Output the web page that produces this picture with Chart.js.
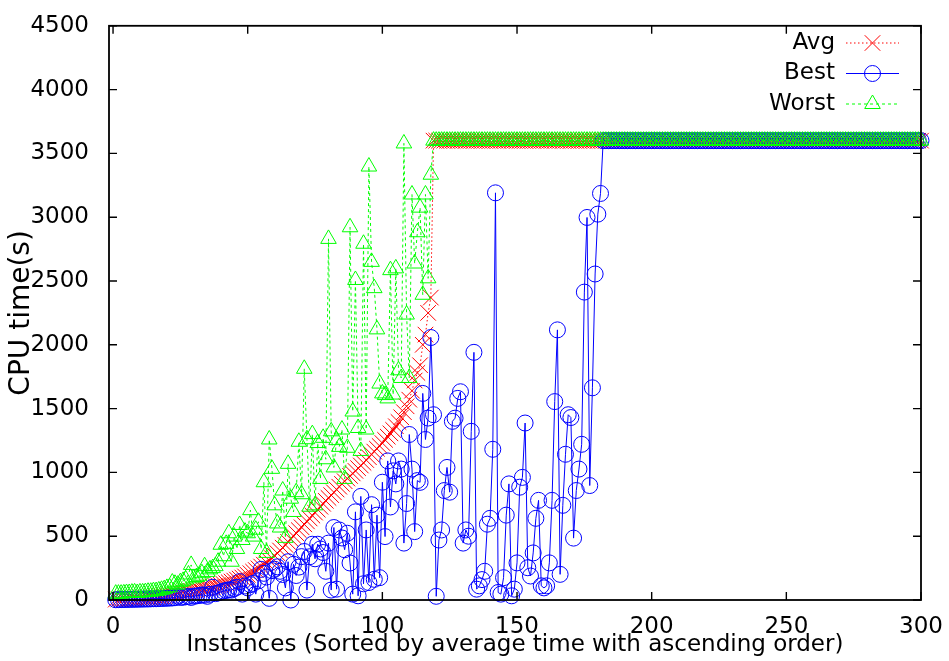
<!DOCTYPE html>
<html><head><meta charset="utf-8">
<script src="https://cdn.jsdelivr.net/npm/chart.js@4.4.0/dist/chart.umd.min.js"></script>
<style>html,body{margin:0;padding:0;background:#fff;}#c{display:block;}</style>
</head><body>
<canvas id="c" width="949" height="661"></canvas>
<script>
// ---- data ----
const seriesNames = ['Avg', 'Best', 'Worst'];
const xTickValues = [0, 50, 100, 150, 200, 250, 300];
const yTickValues = [0, 500, 1000, 1500, 2000, 2500, 3000, 3500, 4000, 4500];

const avgTime = [
  3,4,5,6,7,8,9,10,11,12, 14,15,17,19,21,23,26,29,32,36,
  40,44,48,52,56,60,64,68,72,76, 80,84,88,92,96,100,105,110,115,120,
  126,132,138,145,152,160,168,176,185,197, 210,222,235,248,262,277,293,310,328,347,
  367,388,410,432,455,478,501,524,547,570, 593,616,639,662,685,708,731,754,777,800,
  822,844,866,888,910,931,952,972,992,1012, 1033,1054,1075,1097,1119,1141,1163,1185,1207,1230,
  1255,1280,1306,1333,1362,1395,1432,1472,1518,1570, 1640,1720,1780,1840,2000,2080,2250,2370,
  3600,3600,3600,3600,3600,3600,3600,3600,3600,3600, 3600,3600,3600,3600,3600,3600,3600,3600,3600,3600,
  3600,3600,3600,3600,3600,3600,3600,3600,3600,3600, 3600,3600,3600,3600,3600,3600,3600,3600,3600,3600,
  3600,3600,3600,3600,3600,3600,3600,3600,3600,3600, 3600,3600,3600,3600,3600,3600,3600,3600,3600,3600,
  3600,3600,3600,3600,3600,3600,3600,3600,3600,3600, 3600,3600,3600,3600,3600,3600,3600,3600,3600,3600,
  3600,3600,3600,3600,3600,3600,3600,3600,3600,3600, 3600,3600,3600,3600,3600,3600,3600,3600,3600,3600,
  3600,3600,3600,3600,3600,3600,3600,3600,3600,3600, 3600,3600,3600,3600,3600,3600,3600,3600,3600,3600,
  3600,3600,3600,3600,3600,3600,3600,3600,3600,3600, 3600,3600,3600,3600,3600,3600,3600,3600,3600,3600,
  3600,3600,3600,3600,3600,3600,3600,3600,3600,3600, 3600,3600,3600,3600,3600,3600,3600,3600,3600,3600,
  3600,3600,3600,3600,3600,3600,3600,3600,3600,3600, 3600,3600,3600,3600,3600,3600,3600,3600,3600,3600,
  3600,3600
];

const bestTime = [
  2,3,3,4,4,5,5,6,6,7, 7,8,8,9,10,10,11,12,13,14,
  15,16,18,29,20,22,25,28,20,30, 32,35,40,38,29,45,100,50,55,62,
  70,75,80,78,90,100,144,46,110,95, 120,130,46,150,240,209,180,13,230,241,
  260,225,200,95,300,0,280,192,258,340, 380,78,339,437,323,437,400,372,225,446,
  78,568,85,549,486,394,523,290,46,691, 33,812,127,549,137,747,162,665,175,923,
  497,1090,729,1012,910,1090,1026,446,756,1297, 1026,536,936,922,1619,1258,1426,2057,1452,29,
  470,549,858,1039,845,1400,1425,1580,1632,446, 549,500,1322,1941,85,111,160,225,594,640,
  1181,3191,59,46,175,665,910,33,85,291, 884,961,1387,253,188,369,640,781,111,95,
  111,291,781,1555,2117,201,742,1142,1452,1430, 485,858,1026,1220,2413,2998,897,1663,2555,3024,3186,
  3600,3600,3600,3600,3600,3600,3600,3600,3600,3600, 3600,3600,3600,3600,3600,3600,3600,3600,3600,3600,
  3600,3600,3600,3600,3600,3600,3600,3600,3600,3600, 3600,3600,3600,3600,3600,3600,3600,3600,3600,3600,
  3600,3600,3600,3600,3600,3600,3600,3600,3600,3600, 3600,3600,3600,3600,3600,3600,3600,3600,3600,3600,
  3600,3600,3600,3600,3600,3600,3600,3600,3600,3600, 3600,3600,3600,3600,3600,3600,3600,3600,3600,3600,
  3600,3600,3600,3600,3600,3600,3600,3600,3600,3600, 3600,3600,3600,3600,3600,3600,3600,3600,3600,3600,
  3600,3600,3600,3600,3600,3600,3600,3600,3600,3600, 3600,3600,3600,3600,3600,3600,3600,3600,3600
];

const worstTime = [
  50,50,50,52,55,55,58,60,55,60, 60,62,65,65,70,70,75,80,85,95,
  100,137,127,120,140,150,160,200,275,170, 180,190,210,265,220,240,250,265,300,433,
  343,440,523,300,497,400,588,470,536,523, 704,497,551,613,400,923,369,1258,1028,742,
  600,568,858,487,1067,794,690,845,1240,829, 1812,1260,731,1300,742,1230,949,1271,1103,2830,
  1322,1039,1253,1200,1336,949,1193,2921,1477,2508, 1348,1168,2792,1336,3397,2650,2444,2121,1696,1619,
  1606,1580,2585,1610,2599,1800,1740,3578,2237,1740, 3178,2637,2882,3075,2392,3178,2521,3333,
  3600,3600,3600,3600,3600,3600,3600,3600,3600,3600, 3600,3600,3600,3600,3600,3600,3600,3600,3600,3600,
  3600,3600,3600,3600,3600,3600,3600,3600,3600,3600, 3600,3600,3600,3600,3600,3600,3600,3600,3600,3600,
  3600,3600,3600,3600,3600,3600,3600,3600,3600,3600, 3600,3600,3600,3600,3600,3600,3600,3600,3600,3600,
  3600,3600,3600,3600,3600,3600,3600,3600,3600,3600, 3600,3600,3600,3600,3600,3600,3600,3600,3600,3600,
  3600,3600,3600,3600,3600,3600,3600,3600,3600,3600, 3600,3600,3600,3600,3600,3600,3600,3600,3600,3600,
  3600,3600,3600,3600,3600,3600,3600,3600,3600,3600, 3600,3600,3600,3600,3600,3600,3600,3600,3600,3600,
  3600,3600,3600,3600,3600,3600,3600,3600,3600,3600, 3600,3600,3600,3600,3600,3600,3600,3600,3600,3600,
  3600,3600,3600,3600,3600,3600,3600,3600,3600,3600, 3600,3600,3600,3600,3600,3600,3600,3600,3600,3600,
  3600,3600,3600,3600,3600,3600,3600,3600,3600,3600, 3600,3600,3600,3600,3600,3600,3600,3600,3600,3600,
  3600,3600
];

// instance numbers (sorted by average time)
const instanceIds = avgTime.map((_, i) => i + 1);

// ---- styles ----
const FONT = "'DejaVu Sans', sans-serif";
const styles = {
  Avg:   { color: '#ff0000', dash: [1.5, 2.5], point: 'crossRot', radius: 11 },
  Best:  { color: '#0000ff', dash: [],        point: 'circle',   radius: 8 },
  Worst: { color: '#00ff00', dash: [3, 3],    point: 'triangle', radius: 9 }
};
const seriesValues = { Avg: avgTime, Best: bestTime, Worst: worstTime };
const drawOrder = { Avg: 3, Best: 2, Worst: 1 }; // Worst drawn on top

function pts(vals) { return vals.map((v, i) => ({ x: instanceIds[i], y: v })); }

const datasets = seriesNames.map(name => ({
  label: name,
  data: pts(seriesValues[name]),
  borderColor: styles[name].color,
  borderWidth: 1,
  borderDash: styles[name].dash,
  pointStyle: styles[name].point,
  pointRadius: styles[name].radius,
  pointBorderColor: styles[name].color,
  pointBackgroundColor: 'rgba(0,0,0,0)',
  pointBorderWidth: 1,
  tension: 0,
  fill: false,
  clip: false,
  order: drawOrder[name]
}));

function drawMarker(ctx, style, x, y, r) {
  ctx.beginPath();
  if (style === 'crossRot') {
    const d = r * Math.SQRT1_2;
    ctx.moveTo(x - d, y - d); ctx.lineTo(x + d, y + d);
    ctx.moveTo(x + d, y - d); ctx.lineTo(x - d, y + d);
  } else if (style === 'circle') {
    ctx.arc(x, y, r, 0, Math.PI * 2);
  } else {
    ctx.moveTo(x, y - r);
    ctx.lineTo(x + r * 0.866, y + r * 0.5);
    ctx.lineTo(x - r * 0.866, y + r * 0.5);
    ctx.closePath();
  }
  ctx.stroke();
}

const gnuplotFrame = {
  id: 'gnuplotFrame',
  afterDatasetsDraw(chart) {
    const { ctx, chartArea: a, scales } = chart;
    ctx.save();
    ctx.setLineDash([]);
    ctx.strokeStyle = '#000';
    ctx.lineWidth = 1.8;
    ctx.strokeRect(a.left, a.top, a.right - a.left, a.bottom - a.top);
    ctx.lineWidth = 1.4;
    ctx.beginPath();
    yTickValues.forEach(v => {
      const py = scales.y.getPixelForValue(v);
      ctx.moveTo(a.left, py); ctx.lineTo(a.left + 8, py);
      ctx.moveTo(a.right, py); ctx.lineTo(a.right - 8, py);
    });
    xTickValues.forEach(v => {
      const px = scales.x.getPixelForValue(v);
      ctx.moveTo(px, a.bottom); ctx.lineTo(px, a.bottom - 8);
      ctx.moveTo(px, a.top); ctx.lineTo(px, a.top + 8);
    });
    ctx.stroke();
    ctx.restore();
  },
  afterDraw(chart) {
    const { ctx } = chart;
    ctx.save();
    const rowsY = [43, 73.5, 104];
    seriesNames.forEach((name, i) => {
      const y = rowsY[i];
      const st = styles[name];
      ctx.fillStyle = '#000';
      ctx.font = '23px ' + FONT;
      ctx.textAlign = 'right';
      ctx.textBaseline = 'middle';
      ctx.fillText(name, 835, y);
      ctx.strokeStyle = st.color;
      ctx.lineWidth = 1;
      ctx.setLineDash(st.dash);
      ctx.beginPath();
      ctx.moveTo(846, y); ctx.lineTo(899, y);
      ctx.stroke();
      ctx.setLineDash([]);
      drawMarker(ctx, st.point, 872.5, y, st.radius);
    });
    ctx.restore();
  }
};

Chart.defaults.font.family = FONT;
Chart.defaults.font.size = 23;
Chart.defaults.color = '#000';

new Chart(document.getElementById('c'), {
  type: 'line',
  data: { datasets },
  options: {
    responsive: false,
    devicePixelRatio: 1,
    animation: false,
    events: [],
    layout: { padding: { top: 19, right: 28, left: 0, bottom: 0 } },
    plugins: { legend: { display: false }, tooltip: { enabled: false } },
    scales: {
      x: {
        type: 'linear',
        min: -1.5,
        max: 300,
        grid: { display: false },
        border: { display: false },
        afterBuildTicks: s => { s.ticks = xTickValues.map(v => ({ value: v })); },
        afterFit: s => { s.height = 61; },
        ticks: { padding: 5, font: { size: 23 }, color: '#000', maxRotation: 0,
                 callback: v => String(v) },
        title: { display: true, text: 'Instances (Sorted by average time with ascending order)',
                 font: { size: 23 }, color: '#000', padding: { top: 0, bottom: 2 } }
      },
      y: {
        type: 'linear',
        min: 0,
        max: 4500,
        grid: { display: false },
        border: { display: false },
        afterBuildTicks: s => { s.ticks = yTickValues.map(v => ({ value: v })); },
        afterFit: s => { s.width = 109; },
        ticks: { padding: 12, font: { size: 23 }, color: '#000', callback: v => String(v) },
        title: { display: true, text: 'CPU time(s)', font: { size: 28 }, color: '#000',
                 padding: { top: 5, bottom: 0 } }
      }
    }
  },
  plugins: [gnuplotFrame]
});
</script>
</body></html>
